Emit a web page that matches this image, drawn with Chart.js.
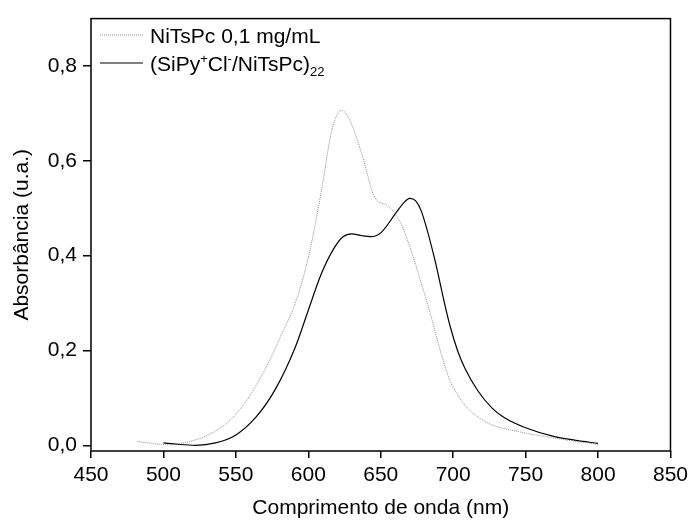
<!DOCTYPE html>
<html>
<head>
<meta charset="utf-8">
<script src="https://cdn.jsdelivr.net/npm/chart.js@4/dist/chart.umd.min.js"></script>
<style>
  html, body { margin: 0; padding: 0; background: #fff; }
  #wrap { width: 693px; height: 525px; }
</style>
</head>
<body>
<div id="wrap"><canvas id="chart" width="693" height="525"></canvas></div>
<script>
// Data
const ntsWavelength = [482, 490, 504, 518, 531, 545, 556, 566, 575, 582, 591, 600, 609, 616, 620, 623, 626, 630, 637, 646, 655, 664, 671, 678, 684, 692, 698, 703, 708, 717, 727, 745, 768, 800];
const ntsAbs =        [0.008, 0.005, 0.001, 0.008, 0.022, 0.05, 0.089, 0.137, 0.19, 0.237, 0.30, 0.396, 0.536, 0.662, 0.698, 0.706, 0.700, 0.676, 0.614, 0.522, 0.505, 0.467, 0.41, 0.342, 0.28, 0.19, 0.135, 0.107, 0.085, 0.06, 0.043, 0.029, 0.016, 0.002];

const filmWavelength = [500, 510, 522, 536, 550, 564, 577, 591, 600, 609, 618, 624, 630, 637, 643, 650, 660, 666, 670, 674, 678, 687, 694, 698, 703, 708, 717, 727, 736, 750, 768, 786, 800];
const filmAbs =        [0.005, 0.002, 0.0, 0.005, 0.022, 0.06, 0.117, 0.207, 0.285, 0.362, 0.417, 0.440, 0.446, 0.442, 0.440, 0.448, 0.488, 0.512, 0.521, 0.516, 0.494, 0.396, 0.30, 0.25, 0.20, 0.163, 0.115, 0.078, 0.057, 0.037, 0.02, 0.01, 0.004];

const xTicks = [450, 500, 550, 600, 650, 700, 750, 800, 850];
const yTicks = [0.0, 0.2, 0.4, 0.6, 0.8];

const FONT = "'Liberation Sans', Arial, sans-serif";

function toPoints(xs, ys) {
    return xs.map((x, i) => ({ x: x, y: ys[i] }));
}

// Box around the plot area
const framePlugin = {
    id: 'frame',
    afterDraw(chart) {
        const { ctx, chartArea: a } = chart;
        ctx.save();
        ctx.strokeStyle = '#000';
        ctx.lineWidth = 1.5;
        ctx.strokeRect(a.left, a.top, a.right - a.left, a.bottom - a.top);
        ctx.restore();
    }
};

// Legend with super/subscripts
const legendPlugin = {
    id: 'richLegend',
    afterDraw(chart) {
        const ctx = chart.ctx;
        const x0 = 100, x1 = 143, tx = 150;
        const rows = [35, 63];
        ctx.save();
        // sample lines
        ctx.lineWidth = 1;
        ctx.strokeStyle = '#8f8f8f';
        ctx.setLineDash([1, 1]);
        ctx.beginPath(); ctx.moveTo(x0, rows[0]); ctx.lineTo(x1, rows[0]); ctx.stroke();
        ctx.setLineDash([]);
        ctx.strokeStyle = '#000';
        ctx.lineWidth = 1.2;
        ctx.beginPath(); ctx.moveTo(x0, rows[1]); ctx.lineTo(x1, rows[1]); ctx.stroke();

        ctx.fillStyle = '#000';
        ctx.textBaseline = 'alphabetic';
        const base = 21 + 'px ' + FONT;
        const small = 13 + 'px ' + FONT;
        ctx.font = base;
        ctx.fillText('NiTsPc 0,1 mg/mL', tx, rows[0] + 8);

        const parts = [
            ['(SiPy', base, 0],
            ['+', small, -8],
            ['Cl', base, 0],
            ['-', small, -8],
            ['/NiTsPc)', base, 0],
            ['22', small, 5]
        ];
        let x = tx;
        parts.forEach(([t, f, dy]) => {
            ctx.font = f;
            ctx.fillText(t, x, rows[1] + 8 + dy);
            x += ctx.measureText(t).width;
        });
        ctx.restore();
    }
};

const ctx = document.getElementById('chart').getContext('2d');
new Chart(ctx, {
    type: 'line',
    data: {
        datasets: [
            {
                label: 'NiTsPc 0,1 mg/mL',
                data: toPoints(ntsWavelength, ntsAbs),
                borderColor: '#8f8f8f',
                borderWidth: 1,
                borderDash: [1, 1],
                pointRadius: 0,
                cubicInterpolationMode: 'monotone',
                fill: false
            },
            {
                label: '(SiPy+Cl-/NiTsPc)22',
                data: toPoints(filmWavelength, filmAbs),
                borderColor: '#000',
                borderWidth: 1.2,
                pointRadius: 0,
                cubicInterpolationMode: 'monotone',
                fill: false
            }
        ]
    },
    options: {
        responsive: false,
        animation: false,
        layout: { padding: { top: 17, right: 20, left: 0, bottom: 0 } },
        plugins: {
            legend: { display: false },
            tooltip: { enabled: false }
        },
        scales: {
            x: {
                type: 'linear',
                min: 450,
                max: 850,
                afterBuildTicks(scale) { scale.ticks = xTicks.map(v => ({ value: v })); },
                afterFit(scale) { scale.height = 74; },
                grid: { drawOnChartArea: false, drawTicks: true, tickLength: 7, color: '#000', lineWidth: 1.5 },
                border: { display: false },
                ticks: { color: '#000', font: { family: FONT, size: 21 }, padding: 5, maxRotation: 0 },
                title: { display: true, text: 'Comprimento de onda (nm)', color: '#000', font: { family: FONT, size: 21 }, padding: { top: 4, bottom: 4 } }
            },
            y: {
                type: 'linear',
                min: -0.012,
                max: 0.9,
                afterBuildTicks(scale) { scale.ticks = yTicks.map(v => ({ value: v })); },
                afterFit(scale) { scale.width = 91; },
                grid: { drawOnChartArea: false, drawTicks: true, tickLength: 8, color: '#000', lineWidth: 1.5 },
                border: { display: false },
                ticks: {
                    color: '#000',
                    font: { family: FONT, size: 21 },
                    padding: 6,
                    callback: v => v.toFixed(1).replace('.', ',')
                },
                title: { display: true, text: 'Absorbância (u.a.)', color: '#000', font: { family: FONT, size: 21 }, padding: { top: 10, bottom: 4 } }
            }
        }
    },
    plugins: [framePlugin, legendPlugin]
});
</script>
</body>
</html>
